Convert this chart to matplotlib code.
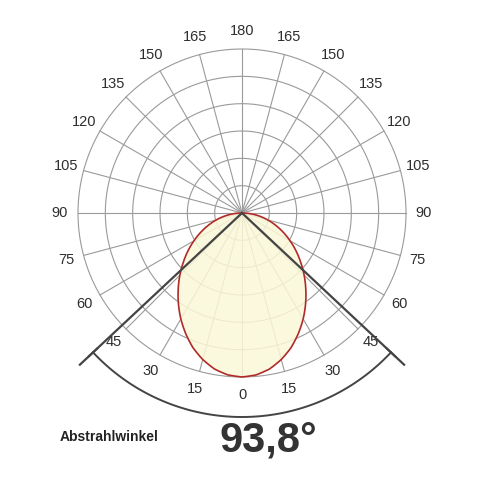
import numpy as np
import matplotlib.pyplot as plt

angles = [0, 5, 10, 15, 20, 25, 30, 35, 40, 45, 50, 55, 60, 65, 70, 75, 80, 85, 90]
intensity = [1.00, 0.991, 0.966, 0.925, 0.874, 0.812, 0.746, 0.676, 0.605,
             0.536, 0.467, 0.402, 0.338, 0.277, 0.218, 0.162, 0.107, 0.053, 0.00]
beam_angle = 93.8
tick_labels = [0, 15, 30, 45, 60, 75, 90, 105, 120, 135, 150, 165, 180]

CX, CY, R = 242, 213, 164

fig = plt.figure(figsize=(4.9, 4.9), dpi=100)
ax = fig.add_axes([0, 0, 1, 1])
ax.set_xlim(0, 490)
ax.set_ylim(490, 0)
ax.set_aspect("equal")
ax.axis("off")


def pt(r, deg):
    a = np.radians(deg)
    return CX + r * np.sin(a), CY + r * np.cos(a)


grid = "#9a9a9a"
t = np.linspace(0, 360, 361)
for k in range(1, 7):
    x, y = pt(R * k / 6, t)
    ax.plot(x, y, color=grid, lw=0.8)
for d in range(0, 360, 15):
    x, y = pt(np.array([0, R]), d)
    ax.plot(x, y, color=grid, lw=0.8)

# lobe
fine = np.linspace(-90, 90, 721)
rf = np.interp(np.abs(fine), angles, intensity) * R
x, y = pt(rf, fine)
ax.fill(x, y, color="#fbf8d8", alpha=0.85, zorder=2)
ax.plot(x, y, color="#b02a2a", lw=1.2, zorder=3)

# beam lines and arc
half = beam_angle / 2
for s in (-1, 1):
    x, y = pt(np.array([0, 222]), s * half)
    ax.plot(x, y, color="#444444", lw=1.6, zorder=4)
    x, y = pt(np.array([198, 210]), s * half)
    ax.plot(x, y, color="#444444", lw=1.4, zorder=4)
aa = np.linspace(-half, half, 100)
x, y = pt(204, aa)
ax.plot(x, y, color="#444444", lw=1.4, zorder=4)

for lab in tick_labels:
    for s in (-1, 1):
        if s == 1 and lab in (0, 180):
            continue
        x, y = pt(182, s * lab)
        ax.text(x, y, str(lab), ha="center", va="center", fontsize=10.5,
                color="#2e2e2e", family="Liberation Sans")

ax.text(60, 437, "Abstrahlwinkel", ha="left", va="center", fontsize=10,
        fontweight="bold", color="#222222", family="Liberation Sans")
ax.text(268, 440, f"{beam_angle:.1f}°".replace(".", ","), ha="center",
        va="center", fontsize=30, fontweight="bold", color="#333333",
        family="Liberation Sans")

fig.savefig("out.png", dpi=100)
